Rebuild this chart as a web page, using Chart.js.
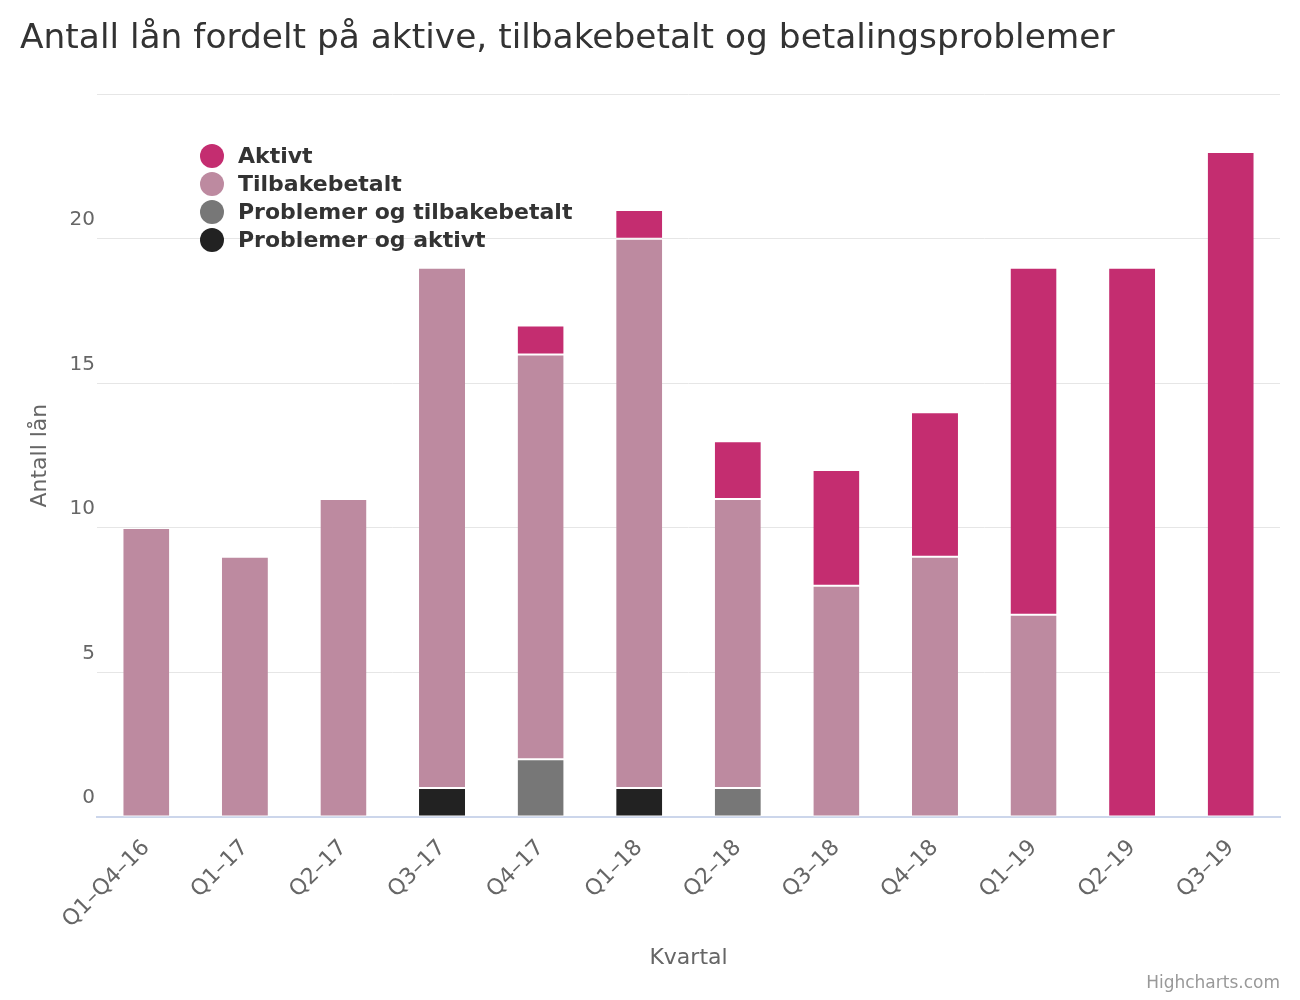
<!DOCTYPE html>
<html>
<head>
<meta charset="utf-8">
<title>Antall lån</title>
<script src="https://cdn.jsdelivr.net/npm/chart.js@4.4.0/dist/chart.umd.min.js"></script>
<style>
  html, body { margin: 0; padding: 0; background: #fff; }
  #wrap { width: 1300px; height: 1000px; position: relative; }
</style>
</head>
<body>
<div id="wrap"><canvas id="graph"></canvas></div>
<script>
var kvartal = ["Q1–Q4–16", "Q1–17", "Q2–17", "Q3–17", "Q4–17", "Q1–18",
               "Q2–18", "Q3–18", "Q4–18", "Q1–19", "Q2–19", "Q3–19"];

// stablet nedenfra: problemer og aktivt, problemer og tilbakebetalt, tilbakebetalt, aktivt
var problemerAktivt        = [0, 0, 0, 1, 0, 1, 0, 0, 0, 0, 0, 0];
var problemerTilbakebetalt = [0, 0, 0, 0, 2, 0, 1, 0, 0, 0, 0, 0];
var tilbakebetalt          = [10, 9, 11, 18, 14, 19, 10, 8, 9, 7, 0, 0];
var aktivt                 = [0, 0, 0, 0, 1, 1, 2, 4, 5, 12, 19, 23];

var yMax = 25;
var yStep = 5;

Chart.defaults.font.family = "'DejaVu Sans', sans-serif";
Chart.defaults.color = "#666";

// legende oppe til venstre i plottet + credits-tekst
var legendPlugin = {
  id: "innerLegend",
  afterDraw: function(chart) {
    var ctx = chart.ctx;
    var sets = chart.data.datasets.slice().reverse();
    ctx.save();
    ctx.font = "bold 22px 'DejaVu Sans'";
    ctx.textBaseline = "middle";
    ctx.textAlign = "left";
    sets.forEach(function(ds, i) {
      var y = 156 + i * 28;
      ctx.fillStyle = ds.backgroundColor;
      ctx.beginPath();
      ctx.arc(212, y, 12, 0, Math.PI * 2);
      ctx.fill();
      ctx.fillStyle = "#333";
      ctx.fillText(ds.label, 238, y + 1);
    });
    ctx.font = "17px 'DejaVu Sans'";
    ctx.fillStyle = "#999";
    ctx.textAlign = "right";
    ctx.fillText("Highcharts.com", 1280, 984);
    ctx.restore();
  }
};

function serie(label, values, color) {
  return {
    label: label,
    data: values,
    backgroundColor: color,
    borderColor: "#fff",
    borderWidth: { top: 1, bottom: 1, left: 0, right: 0 },
    borderSkipped: false,
    barPercentage: 0.467,
    categoryPercentage: 1
  };
}

var ctx = document.getElementById("graph").getContext("2d");
var chart = new Chart(ctx, {
  type: "bar",
  data: {
    labels: kvartal,
    datasets: [
      serie("Problemer og aktivt", problemerAktivt, "#222222"),
      serie("Problemer og tilbakebetalt", problemerTilbakebetalt, "#777777"),
      serie("Tilbakebetalt", tilbakebetalt, "#bd8aa0"),
      serie("Aktivt", aktivt, "#c42d70")
    ]
  },
  options: {
    responsive: true,
    maintainAspectRatio: false,
    animation: false,
    layout: { padding: { left: 20, right: 20, top: 0, bottom: 20 } },
    plugins: {
      legend: { display: false },
      tooltip: { enabled: false },
      title: {
        display: true,
        text: "Antall lån fordelt på aktive, tilbakebetalt og betalingsproblemer",
        align: "start",
        color: "#333",
        font: { size: 34.4, weight: "normal" },
        padding: { top: 18, bottom: 35 }
      }
    },
    scales: {
      x: {
        stacked: true,
        ticks: {
          color: "#666",
          font: { size: 22 },
          minRotation: 45,
          maxRotation: 45,
          autoSkip: false,
          padding: 18
        },
        grid: { display: false, drawTicks: false },
        border: { display: true, color: "#ccd6eb", width: 2 },
        title: {
          display: true,
          text: "Kvartal",
          color: "#666",
          font: { size: 22 },
          padding: { top: 0, bottom: 9 }
        },
        afterFit: function(s) { s.height = 163; }
      },
      y: {
        stacked: true,
        min: 0,
        max: yMax,
        ticks: {
          stepSize: yStep,
          color: "#666",
          font: { size: 20 },
          padding: 2,
          labelOffset: -19,
          callback: function(v) { return v === yMax ? "" : v; }
        },
        grid: { color: "#e6e6e6", drawTicks: false },
        border: { display: false },
        title: {
          display: true,
          text: "Antall lån",
          color: "#666",
          font: { size: 22 },
          padding: { top: 7, bottom: 0 }
        },
        afterFit: function(s) { s.width = 77; }
      }
    }
  },
  plugins: [legendPlugin]
});
</script>
</body>
</html>
